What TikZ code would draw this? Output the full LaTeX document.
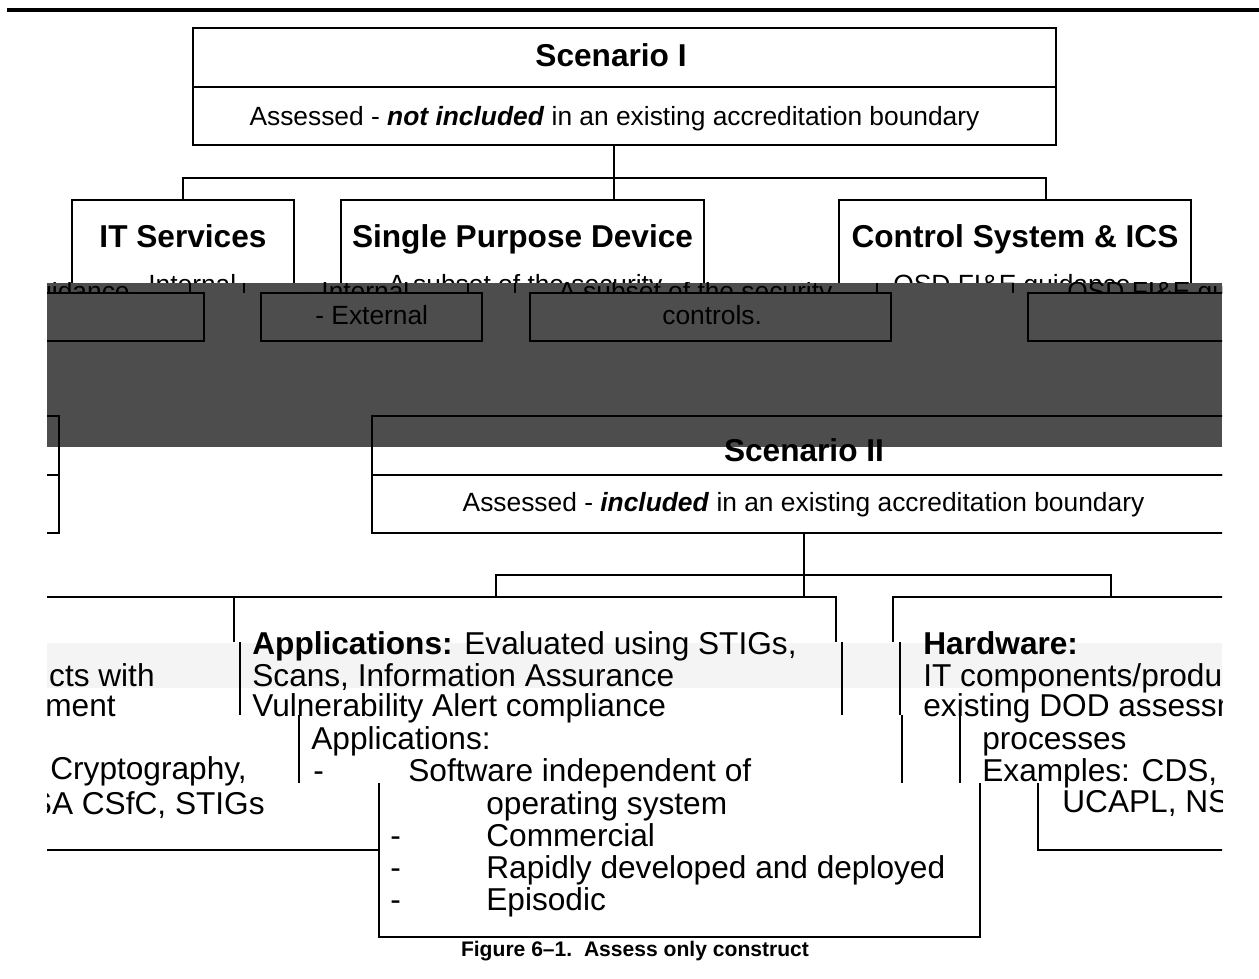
\documentclass[tikz,border=0pt]{standalone}
\usepackage{fontspec}
\setmainfont{Liberation Sans}
\usetikzlibrary{calc}
\definecolor{band}{RGB}{77,77,77}
\definecolor{haze}{RGB}{244,244,244}
\newcommand{\hdfont}{\fontsize{18}{20}\selectfont\bfseries}
\newcommand{\txfont}{\fontsize{18}{20}\selectfont}
\newcommand{\smfont}{\fontsize{15}{17}\selectfont}
\newcommand{\capfont}{\fontsize{12}{14}\selectfont\bfseries}

\begin{document}
\begin{tikzpicture}[x=0.02cm,y=-0.02cm,
    cell/.style={draw,line width=1.1pt,inner sep=0pt,outer sep=0pt},
    link/.style={line width=1.1pt},
    edge/.style={line width=1.6pt},
    hd/.style={font=\hdfont,inner sep=0pt},
    tx/.style={font=\txfont,inner sep=0pt,anchor=base west},
    sm/.style={font=\smfont,inner sep=0pt,anchor=base west},
    kid/.style={cell,font=\hdfont,anchor=north,text height=0.96cm,text depth=2.04cm}]
    \useasboundingbox (0,0) rectangle (1259,979);
    \draw[line width=2.3pt] (7,10) -- (1259,10);

    % Scenario I
    \node[cell,anchor=north west,minimum width=17.26cm,minimum height=1.18cm] (s1title) at (193,28) {};
    \node[cell,anchor=north,minimum width=17.26cm,minimum height=1.16cm] (s1sub) at (s1title.south) {};
    \node[hd,anchor=base] (s1name) at (611,67) {Scenario I};
    \node[sm,anchor=base] (s1text) at (614.5,126) {Assessed - \textbf{\textit{not included}} in an existing accreditation boundary};

    \node[kid,minimum width=4.44cm] (itsvc) at (183,200) {IT Services};
    \node[kid,minimum width=7.26cm] (spd) at (522.5,200) {Single Purpose Device};
    \node[kid,minimum width=7.04cm] (ctrl) at (1015,200) {Control System \& ICS};
    \node[sm] (itint) at (148,294) {Internal};
    \node[sm] (spdsub) at (388,294) {A subset of the security,};
    \node[sm] (ctrlsub) at (893,294) {OSD FI\&E guidance};

    \coordinate (s1fork) at (614,178);
    \coordinate (s1r) at (1046,178);
    \draw[link] (s1sub.south -| s1fork) -- (spd.north -| s1fork);
    \draw[link] (itsvc.north) |- (s1r) -- (ctrl.north -| s1r);

    \begin{scope}
        \clip (47,283) rectangle (1222,979);
        \fill[band] (47,283) rectangle (1222,447);
        \begin{scope}
            \clip (47,282) rectangle (1222,293);
            \node[sm,anchor=base east] (gd) at (130,301) {guidance};
            \node[sm] (inl) at (305,301) {- Internal};
            \node[sm] (sec) at (558,301) {A subset of the security,};
            \node[sm] (osd) at (1067,301) {OSD FI\&E guidance};
            \foreach \tx in {190,244,468,515,877,1013}
                \draw[link] (\tx,283) -- (\tx,293);
        \end{scope}
        \draw[link] (40,293) -| (204,341) -- (40,341);
        \draw[link] (261,293) rectangle (482,341);
        \draw[link] (530,293) rectangle (891,341);
        \draw[link] (1240,293) -| (1028,341) -- (1240,341);
        \node[sm] (extl) at (315,325) {- External};
        \node[sm] (ctls) at (662,325) {controls.};

        % Scenario II
        \draw[link] (40,416) -| (59,533) -- (40,533);
        \draw[link] (40,475) -- (59,475);
        \node[cell,anchor=north west,minimum width=17.28cm,minimum height=1.18cm] (s2title) at (372,416) {};
        \node[cell,anchor=north,minimum width=17.28cm,minimum height=1.16cm] (s2sub) at (s2title.south) {};
        \node[hd,anchor=base] (s2name) at (804,462) {Scenario II};
        \node[sm,anchor=base] (s2text) at (803.5,512) {Assessed - \textbf{\textit{included}} in an existing accreditation boundary};

        \coordinate (s2l) at (496,575);
        \coordinate (s2r) at (1111,575);
        \draw[link] (s2sub.south) -- ++(0,64);
        \draw[link] (s2l) ++(0,22) |- (s2r) -- ++(0,22);

        \fill[haze] (47,643) rectangle (1222,688);
        \draw[link] (40,597) -- (836,597) -- (836,642);
        \draw[edge] (234,597) -- (234,642);
        \draw[edge] (240,642) -- (240,715);
        \draw[link] (842,642) -- (842,715);
        \draw[edge] (299,715) -- (299,783);
        \draw[link] (902,715) -- (902,783);
        \draw[link] (379,783) -- (379,937) -- (980,937) -- (980,783);
        \draw[link] (40,850) -- (379,850);
        \draw[link] (1240,597) -| (893,642);
        \draw[link] (900,642) -- (900,715);
        \draw[link] (960,715) -- (960,783);
        \draw[link] (1038,783) |- (1240,850);

        \node[tx,anchor=base east] (prd) at (155,687) {products with};
        \node[tx,anchor=base east] (asm) at (116,717) {assessment};
        \node[tx] (cry) at (50,780) {Cryptography,};
        \node[tx,anchor=base east] (nsa) at (265,815) {NSA CSfC, STIGs};

        \node[tx] (ap1) at (252,655) {\textbf{Applications:} Evaluated using STIGs,};
        \node[tx] (ap2) at (252,687) {Scans, Information Assurance};
        \node[tx] (ap3) at (252,717) {Vulnerability Alert compliance};
        \node[tx] (ap4) at (311,750) {Applications:};
        \node[tx] (ap5) at (313,782) {-};
        \node[tx] (ap6) at (408,782) {Software independent of};
        \node[tx] (ap7) at (486,815) {operating system};
        \foreach \y/\t in {847/Commercial,879/Rapidly developed and deployed,911/Episodic} {
            \node[tx] at (390,\y) {-};
            \node[tx] at (486,\y) {\t};
        }

        \node[tx] (hw1) at (923,655) {\textbf{Hardware:}};
        \node[tx] (hw2) at (923,687) {IT components/products with};
        \node[tx] (hw3) at (923,717) {existing DOD assessment};
        \node[tx] (hw4) at (982,750) {processes};
        \node[tx] (hw5) at (982,782) {Examples: CDS,};
        \node[tx] (hw6) at (1062,813) {UCAPL, NSA CSfC};
    \end{scope}

    \node[font=\capfont,inner sep=0pt,anchor=base] (fig) at (635,957) {Figure 6–1.\ \ Assess only construct};
\end{tikzpicture}
\end{document}
